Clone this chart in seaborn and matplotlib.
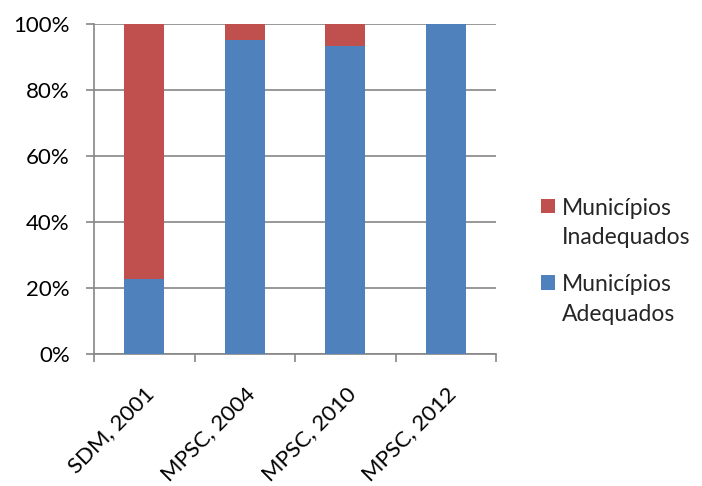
import matplotlib
matplotlib.use("Agg")
import matplotlib.pyplot as plt
import seaborn as sns
import pandas as pd
from matplotlib.patches import Patch
from matplotlib.ticker import PercentFormatter

categories = ["SDM, 2001", "MPSC, 2004", "MPSC, 2010", "MPSC, 2012"]
adequados = [22.7, 95.1, 93.4, 100.0]
inadequados = [77.3, 4.9, 6.6, 0.0]
series_labels = ["Municípios\nAdequados", "Municípios\nInadequados"]

BLUE = "#4F81BD"
RED = "#C0504D"
GRID = "#868686"

sns.set_theme(style="white")
plt.rcParams["font.family"] = ["Lato", "DejaVu Sans"]

df = pd.DataFrame({
    "categoria": categories,
    "adequados": adequados,
    "total": [a + i for a, i in zip(adequados, inadequados)],
})

fig = plt.figure(figsize=(7.02, 4.86), dpi=100)
ax = fig.add_axes([94 / 702, 1 - 354 / 486, (496 - 94) / 702, (354 - 24) / 486])

# stacked bars: total (red) underneath, adequate share (blue) on top
sns.barplot(data=df, x="categoria", y="total", color=RED, saturation=1,
            width=0.4, ax=ax, linewidth=0, zorder=3)
sns.barplot(data=df, x="categoria", y="adequados", color=BLUE, saturation=1,
            width=0.4, ax=ax, linewidth=0, zorder=4)

ax.set_xlim(-0.5, len(categories) - 0.5)
ax.set_ylim(0, 100)
ax.set_yticks(range(0, 101, 20))
ax.yaxis.set_major_formatter(PercentFormatter(decimals=0))
ax.set_xlabel("")
ax.set_ylabel("")

ax.grid(axis="y", color=GRID, linewidth=1.2, zorder=0)
ax.grid(axis="x", visible=False)
for side in ("top", "right"):
    ax.spines[side].set_visible(False)
for side in ("left", "bottom"):
    ax.spines[side].set_color(GRID)
    ax.spines[side].set_linewidth(1.2)

ax.tick_params(axis="y", which="major", length=5.5, width=1.2, color=GRID,
               labelsize=16, pad=12, left=True)
ax.tick_params(axis="x", which="major", length=0, labelsize=16, pad=21)
ax.set_xticks([i - 0.5 for i in range(len(categories) + 1)], minor=True)
ax.tick_params(axis="x", which="minor", length=6, width=1.2, color=GRID, bottom=True)
plt.setp(ax.get_xticklabels(), rotation=45, ha="right", rotation_mode="anchor")
for lbl in ax.get_yticklabels() + ax.get_xticklabels():
    lbl.set_color("black")

handles = [Patch(facecolor=RED, edgecolor="none"), Patch(facecolor=BLUE, edgecolor="none")]
leg = fig.legend(handles, [series_labels[1], series_labels[0]],
                 loc="upper left", bbox_to_anchor=(520 / 702, 1 - 177 / 486),
                 frameon=False, fontsize=16.5, handlelength=0.61, handleheight=0.61,
                 handletextpad=0.33, labelspacing=1.1, alignment="left")
for t in leg.get_texts():
    t.set_linespacing(1.52)
# line each swatch up with the first line of its two-line label
for h in leg.legend_handles:
    h.set_y(h.get_y() + 12.5)

fig.savefig("out.png", dpi=100)
